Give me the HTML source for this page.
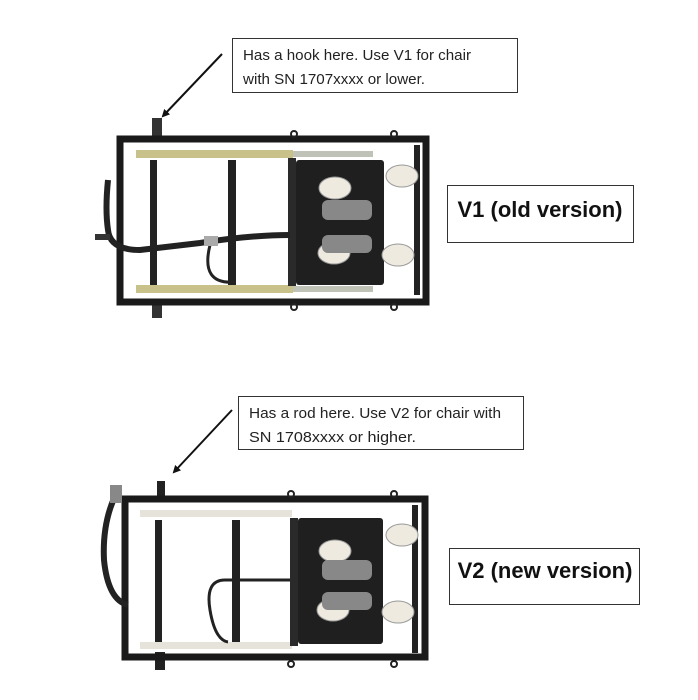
<!DOCTYPE html>
<html><head><meta charset="utf-8"><style>
html,body{margin:0;padding:0;background:#fff}
svg{display:block}
text{font-family:"Liberation Sans","DejaVu Sans",sans-serif}
</style></head><body>
<svg width="698" height="700" viewBox="0 0 698 700" xmlns="http://www.w3.org/2000/svg">
<rect width="698" height="700" fill="#fff"/>
<defs>
<marker id="ah" markerWidth="8" markerHeight="8" refX="6" refY="4" orient="auto" markerUnits="userSpaceOnUse"><path d="M0,0 L8,4 L0,8 z" fill="#111"/></marker>
<g id="wheels">
<ellipse cx="0" cy="0" rx="16" ry="11" fill="#eeeae0" stroke="#999" stroke-width="1"/>
</g>
</defs>

<!-- Box 1 -->
<rect x="232.5" y="38.5" width="285" height="54" fill="#fff" stroke="#333" stroke-width="1"/>
<text x="243" y="60" font-size="15" fill="#222" textLength="228" lengthAdjust="spacingAndGlyphs">Has a hook here. Use V1 for chair</text>
<text x="243" y="84" font-size="15" fill="#222" textLength="182" lengthAdjust="spacingAndGlyphs">with SN 1707xxxx or lower.</text>
<line x1="222" y1="54" x2="163" y2="116" stroke="#111" stroke-width="2" marker-end="url(#ah)"/>

<rect x="447.5" y="185.5" width="186" height="57" fill="#fff" stroke="#333" stroke-width="1"/>
<text x="540" y="217" font-size="22" font-weight="bold" fill="#111" text-anchor="middle">V1 (old version)</text>

<!-- Frame 1 -->
<g>
<rect x="152" y="118" width="10" height="22" fill="#333"/>
<rect x="152" y="300" width="10" height="18" fill="#333"/>
<rect x="120" y="139" width="306" height="163" fill="none" stroke="#1a1a1a" stroke-width="7"/>
<rect x="136" y="150" width="157" height="8" fill="#c8c28a"/>
<rect x="136" y="285" width="157" height="8" fill="#c8c28a"/>
<rect x="293" y="151" width="80" height="6" fill="#bfc2b6"/>
<rect x="293" y="286" width="80" height="6" fill="#bfc2b6"/>
<rect x="150" y="160" width="7" height="125" fill="#222"/>
<rect x="228" y="160" width="8" height="125" fill="#222"/>
<rect x="288" y="158" width="8" height="128" fill="#2a2a2a"/>
<rect x="414" y="145" width="6" height="150" fill="#222"/>
<rect x="296" y="160" width="88" height="125" fill="#1f1f1f" rx="3"/>
<path d="M108,180 Q105,210 108,230 Q110,250 140,250 L200,243 Q250,235 290,235" fill="none" stroke="#222" stroke-width="6"/>
<path d="M210,245 Q200,285 235,282" fill="none" stroke="#222" stroke-width="3"/>
<rect x="204" y="236" width="14" height="10" fill="#aaa"/>
<rect x="95" y="234" width="15" height="6" fill="#333"/>
<use href="#wheels" x="335" y="188"/>
<use href="#wheels" x="402" y="176"/>
<use href="#wheels" x="334" y="253"/>
<use href="#wheels" x="398" y="255"/>
<rect x="322" y="200" width="50" height="20" fill="#888" rx="6"/>
<rect x="322" y="235" width="50" height="18" fill="#888" rx="6"/>
<circle cx="294" cy="134" r="3" fill="none" stroke="#222" stroke-width="2"/>
<circle cx="394" cy="134" r="3" fill="none" stroke="#222" stroke-width="2"/>
<circle cx="294" cy="307" r="3" fill="none" stroke="#222" stroke-width="2"/>
<circle cx="394" cy="307" r="3" fill="none" stroke="#222" stroke-width="2"/>
</g>

<!-- Box 2 -->
<rect x="238.5" y="396.5" width="285" height="53" fill="#fff" stroke="#333" stroke-width="1"/>
<text x="249" y="418" font-size="15" fill="#222" textLength="252" lengthAdjust="spacingAndGlyphs">Has a rod here. Use V2 for chair with</text>
<text x="249" y="442" font-size="15" fill="#222" textLength="167" lengthAdjust="spacingAndGlyphs">SN 1708xxxx or higher.</text>
<line x1="232" y1="410" x2="174" y2="472" stroke="#111" stroke-width="2" marker-end="url(#ah)"/>

<rect x="449.5" y="548.5" width="190" height="56" fill="#fff" stroke="#333" stroke-width="1"/>
<text x="545" y="578" font-size="22" font-weight="bold" fill="#111" text-anchor="middle">V2 (new version)</text>

<!-- Frame 2 -->
<g>
<rect x="157" y="481" width="8" height="18" fill="#222"/>
<rect x="155" y="652" width="10" height="18" fill="#222"/>
<rect x="125" y="499" width="300" height="158" fill="none" stroke="#1a1a1a" stroke-width="7"/>
<rect x="140" y="510" width="152" height="7" fill="#e6e4da"/>
<rect x="140" y="642" width="152" height="7" fill="#e6e4da"/>
<rect x="155" y="520" width="7" height="122" fill="#222"/>
<rect x="232" y="520" width="8" height="122" fill="#222"/>
<rect x="290" y="518" width="8" height="128" fill="#2a2a2a"/>
<rect x="412" y="505" width="6" height="148" fill="#222"/>
<rect x="298" y="518" width="85" height="126" fill="#1f1f1f" rx="3"/>
<path d="M118,490 Q102,520 104,560 Q108,600 128,605" fill="none" stroke="#222" stroke-width="6"/>
<rect x="110" y="485" width="12" height="18" fill="#888"/>
<path d="M290,580 L225,580 Q205,580 210,610 Q215,640 228,642" fill="none" stroke="#222" stroke-width="3"/>
<use href="#wheels" x="335" y="551"/>
<use href="#wheels" x="402" y="535"/>
<use href="#wheels" x="333" y="610"/>
<use href="#wheels" x="398" y="612"/>
<rect x="322" y="560" width="50" height="20" fill="#888" rx="6"/>
<rect x="322" y="592" width="50" height="18" fill="#888" rx="6"/>
<circle cx="291" cy="494" r="3" fill="none" stroke="#222" stroke-width="2"/>
<circle cx="394" cy="494" r="3" fill="none" stroke="#222" stroke-width="2"/>
<circle cx="291" cy="664" r="3" fill="none" stroke="#222" stroke-width="2"/>
<circle cx="394" cy="664" r="3" fill="none" stroke="#222" stroke-width="2"/>
</g>
</svg>
</body></html>
